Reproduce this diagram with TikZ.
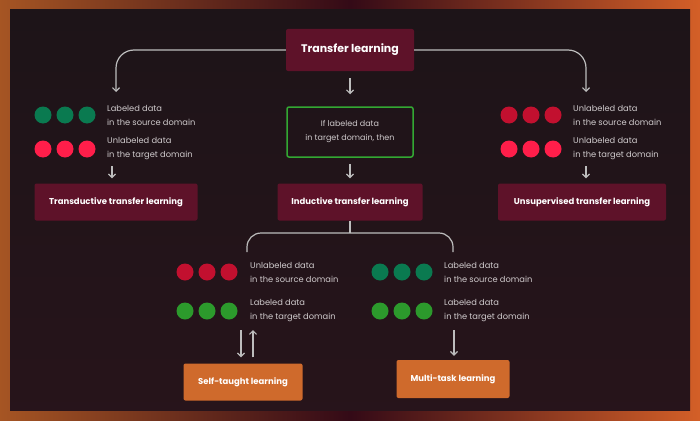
\documentclass[tikz,border=0pt]{standalone}
\usepackage{fontspec}
\setmainfont{Poppins}
\usepackage{xcolor}
\usetikzlibrary{arrows.meta, positioning}

\definecolor{panel}{HTML}{1D1418}
\definecolor{maroon}{HTML}{5E1229}
\definecolor{rust}{HTML}{CF6A2C}
\definecolor{linegray}{HTML}{BDBDBD}
\definecolor{textgray}{HTML}{CFCACC}
\definecolor{teal}{HTML}{0A7A50}
\definecolor{brightred}{HTML}{FF1E4A}
\definecolor{darkred}{HTML}{C2102F}
\definecolor{leaf}{HTML}{2C9A2C}
\definecolor{frame}{HTML}{33A833}

\begin{document}
\begin{tikzpicture}[
    x=1pt, y=-1pt,
    box/.style={rectangle, rounded corners=2pt, fill=maroon, text=white, align=center, font=\bfseries\fontsize{8.5}{11}\selectfont, minimum height=37pt},
    dot/.style={circle, minimum size=17pt, inner sep=0pt},
    note/.style={anchor=west, align=left, inner sep=0pt, text=textgray, font=\fontsize{8.3}{14}\selectfont},
    arrow/.style={-{Straight Barb[length=3.5pt, width=7pt]}, draw=linegray, line width=1.2pt},
    line/.style={draw=linegray, line width=1.2pt}
]
\useasboundingbox (0,0) rectangle (700,420);

% background
\shade[left color=rust!80!black, right color=rust!90!red, middle color=maroon!55!black] (0,0) rectangle (700,420);
\shade[top color=panel, bottom color=panel!85!maroon] (10,10) rectangle (690,410);

% top level
\node (tl) [box, font=\bfseries\fontsize{11}{14}\selectfont, minimum width=128pt, minimum height=42pt] at (350,50) {Transfer learning};
\node (cond) [rectangle, rounded corners=2pt, draw=frame, line width=1.5pt, text=textgray, align=center, font=\fontsize{8}{14}\selectfont, minimum width=126pt, minimum height=50pt] at (350,132) {If labeled data\\in target domain, then};

\node (trans) [box, minimum width=163pt] at (116,202) {Transductive transfer learning};
\node (ind) [box, minimum width=145pt] at (350,202) {Inductive transfer learning};
\node (unsup) [box, minimum width=168pt] at (582,202) {Unsupervised transfer learning};

\node (self) [box, fill=rust, minimum width=119pt] at (243,382) {Self-taught learning};
\node (multi) [box, fill=rust, minimum width=113pt, minimum height=38pt] at (453,379) {Multi-task learning};

% dots
\foreach \i in {0,1,2} {
  \node (ls\i) [dot, fill=teal] at (43+22*\i,115) {};
  \node (lt\i) [dot, fill=brightred] at (43+22*\i,149) {};
  \node (rs\i) [dot, fill=darkred] at (509+22*\i,115) {};
  \node (rt\i) [dot, fill=brightred] at (509+22*\i,149) {};
  \node (ss\i) [dot, fill=darkred] at (185+22*\i,272) {};
  \node (st\i) [dot, fill=leaf] at (185+22*\i,311) {};
  \node (ms\i) [dot, fill=teal] at (380+22*\i,272) {};
  \node (mt\i) [dot, fill=leaf] at (380+22*\i,311) {};
}

% notes
\node (lsn) [note] at (107,115) {Labeled data\\in the source domain};
\node (ltn) [note] at (107,149) {Unlabeled data\\in the target domain};
\node (rsn) [note] at (573,115) {Unlabeled data\\in the source domain};
\node (rtn) [note] at (573,149) {Unlabeled data\\in the target domain};
\node (ssn) [note] at (250,272) {Unlabeled data\\in the source domain};
\node (stn) [note] at (250,311) {Labeled data\\in the target domain};
\node (msn) [note] at (444,272) {Labeled data\\in the source domain};
\node (mtn) [note] at (444,311) {Labeled data\\in the target domain};

% free ends
\coordinate (lend) at (116,92);
\coordinate (rend) at (586,92);
\coordinate (lsm) at (112,166);
\coordinate (rsm) at (586,166);
\coordinate (fork) at (350,233);
\coordinate (bl) at (247,252);
\coordinate (br) at (453,252);
\coordinate (sdown) at (241,330);
\coordinate (sup) at (253,330);
\coordinate (mdown) at (454,330);

% connectors
\draw [arrow, rounded corners=18pt] (tl.west) -| (lend);
\draw [arrow, rounded corners=18pt] (tl.east) -| (rend);
\draw [arrow, shorten <=7pt, shorten >=12pt] (tl) -- (cond);
\draw [arrow, shorten <=6pt, shorten >=5pt] (cond) -- (ind);
\draw [arrow, shorten >=5pt] (lsm) -- (trans.north -| lsm);
\draw [arrow, shorten >=5pt] (rsm) -- (unsup.north -| rsm);

\draw [line] (ind.south) -- (fork);
\draw [line, rounded corners=14pt] (bl) -- (bl |- fork) -- (br |- fork) -- (br);

\draw [arrow, shorten >=6pt] (sdown) -- (self.north -| sdown);
\draw [arrow, shorten <=6pt] (self.north -| sup) -- (sup);
\draw [arrow, shorten >=4pt] (mdown) -- (multi.north -| mdown);

\end{tikzpicture}
\end{document}
